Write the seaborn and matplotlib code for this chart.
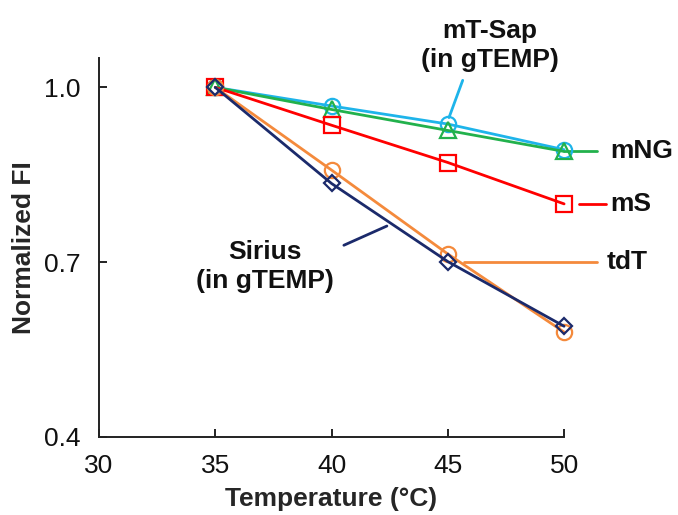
import matplotlib
matplotlib.use("Agg")
import matplotlib.pyplot as plt
import seaborn as sns
import pandas as pd

temps = [35, 40, 45, 50]
mt_sap = [1.0, 0.968, 0.937, 0.893]
mng = [1.0, 0.962, 0.926, 0.890]
ms = [1.0, 0.935, 0.871, 0.800]
tdt = [1.0, 0.858, 0.714, 0.580]
sirius = [1.0, 0.835, 0.701, 0.590]

series_names = ["mT-Sap", "mNG", "mS", "tdT", "Sirius"]
series_vals = [mt_sap, mng, ms, tdt, sirius]
colors = ["#1EB4EA", "#22B14C", "#FF0000", "#F48A3C", "#1B2A6B"]
markers = ["o", "^", "s", "o", "D"]
msizes = [11, 11, 11, 11, 8]

sns.set_style("white")
plt.rcParams["font.family"] = ["Liberation Sans", "DejaVu Sans"]

fig = plt.figure(figsize=(6.78, 5.15), dpi=100)
ax = fig.add_axes([0.146, 0.1515, 0.686, 0.7355])

order = [1, 0, 2, 3, 4]
for i in order:
    df = pd.DataFrame({"T": temps, "FI": series_vals[i]})
    sns.lineplot(data=df, x="T", y="FI", ax=ax, color=colors[i], marker=markers[i],
                 markersize=msizes[i], markerfacecolor="none", markeredgecolor=colors[i],
                 markeredgewidth=1.6, linewidth=2, clip_on=False, zorder=3 + i)

ax.set_xlim(30, 50)
ax.set_ylim(0.4, 1.05)
ax.set_xticks([30, 35, 40, 45, 50])
ax.set_yticks([0.4, 0.7, 1.0])
ax.set_yticklabels(["0.4", "0.7", "1.0"])
ax.tick_params(axis="both", direction="in", length=6, width=1.4, color="#222222",
               labelsize=19, labelcolor="#111111", bottom=True, left=True)
ax.tick_params(axis="y", pad=13)
ax.tick_params(axis="x", pad=12)
for s in ["top", "right"]:
    ax.spines[s].set_visible(False)
for s in ["left", "bottom"]:
    ax.spines[s].set_color("#222222")
    ax.spines[s].set_linewidth(1.4)

ax.set_xlabel("Temperature (°C)", fontsize=19, fontweight="bold", labelpad=7)
ax.set_ylabel("Normalized FI", fontsize=19, fontweight="bold", labelpad=6)

lab = dict(fontsize=19, fontweight="bold", color="#111111")
# right side labels with connector lines
ax.plot([50, 51.4], [mng[-1], mng[-1]], color=colors[1], lw=2, clip_on=False)
ax.text(52.0, mng[-1], "mNG", va="center", ha="left", **lab)
ax.plot([50.65, 51.8], [ms[-1], ms[-1]], color=colors[2], lw=2, clip_on=False)
ax.text(52.0, ms[-1], "mS", va="center", ha="left", **lab)
ax.plot([45.7, 51.4], [0.70, 0.70], color=colors[3], lw=2, clip_on=False)
ax.text(51.85, 0.70, "tdT", va="center", ha="left", **lab)

# mT-Sap label
ax.plot([45.64, 45.05], [1.012, 0.948], color=colors[0], lw=2, clip_on=False)
ax.text(46.8, 1.072, "mT-Sap\n(in gTEMP)", ha="center", va="center",
        linespacing=1.25, **lab)

# Sirius label
ax.plot([40.53, 42.38], [0.729, 0.762], color=colors[4], lw=2, clip_on=False)
ax.text(37.13, 0.692, "Sirius\n(in gTEMP)", ha="center", va="center",
        linespacing=1.25, **lab)

fig.savefig("out.png", dpi=100)
